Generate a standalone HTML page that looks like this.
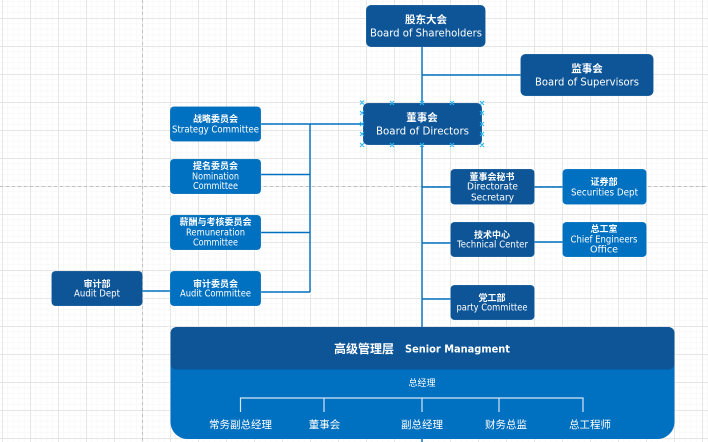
<!DOCTYPE html>
<html><head><meta charset="utf-8"><style>
html,body{margin:0;padding:0;background:#fff;width:708px;height:442px;overflow:hidden}
svg{display:block}
text{fill:#fff;text-anchor:middle;dominant-baseline:central}
.c{font:bold 10.5px "Liberation Sans","Noto Sans CJK SC",sans-serif}
.s{font:bold 9px "Liberation Sans","Noto Sans CJK SC",sans-serif}
.e{font:11px "DejaVu Sans","Liberation Sans",sans-serif}
.f{font:9.5px "DejaVu Sans","Liberation Sans",sans-serif}
.n{font:10.5px "Liberation Sans","Noto Sans CJK SC",sans-serif}
.l{stroke:#0070c0;stroke-width:1.4;fill:none}
.h{stroke:#29b6f2;stroke-width:1.1;fill:none}
</style></head><body>
<svg width="708" height="442" viewBox="0 0 708 442" xmlns="http://www.w3.org/2000/svg">
<defs>
<pattern id="g" x="2" y="18" width="28" height="28" patternUnits="userSpaceOnUse">
<path d="M5.6 0V28M11.2 0V28M16.8 0V28M22.4 0V28M0 5.6H28M0 11.2H28M0 16.8H28M0 22.4H28" stroke="#f9f9f9" stroke-width="1" fill="none"/>
<path d="M0.5 0V28M0 0.5H28" stroke="#e6e6e6" stroke-width="1" fill="none"/>
</pattern>
</defs>
<rect width="708" height="442" fill="#fff"/>
<rect width="708" height="442" fill="url(#g)"/>
<path d="M142.5 0V442M0 186.5H708" stroke="#c0c0c0" stroke-width="1" stroke-dasharray="3 3" fill="none"/>

<path class="l" d="M422 46V442M422 75H521M261 124H363M310 124V292M261 174.5H310M261 232.5H310M261 292H310M142 291H170M422 187H451M534 187H563M422 243H451M534 242H563M422 299H451"/>

<g fill="#0d5597" stroke="#fff" stroke-opacity=".25" stroke-width=".5">
<rect x="366" y="5" width="119.500" height="42" rx="5"/>
<rect x="520.500" y="54" width="133" height="42" rx="5"/>
<rect x="363" y="103" width="119" height="42" rx="5"/>
<rect x="51.500" y="271" width="91" height="35" rx="4"/>
<rect x="450.500" y="169" width="84" height="35.500" rx="4"/>
<rect x="450.500" y="222" width="84" height="35" rx="4"/>
<rect x="450.500" y="285" width="84" height="35" rx="4"/>
</g>
<g fill="#0070c0" stroke="#fff" stroke-opacity=".25" stroke-width=".5">
<rect x="170" y="106.500" width="91" height="35" rx="4"/>
<rect x="170" y="159" width="91" height="35" rx="4"/>
<rect x="170" y="215" width="91" height="35" rx="4"/>
<rect x="170" y="271" width="91" height="35" rx="4"/>
<rect x="562.500" y="169" width="84" height="35.500" rx="4"/>
<rect x="562.500" y="222" width="84" height="35" rx="4"/>
</g>

<path fill="#0070c0" d="M170.500 340H674.500V422a17 17 0 0 1-17 17H187.500a17 17 0 0 1-17-17Z"/>
<rect x="170.500" y="327" width="504" height="42.500" rx="6" fill="#0d5597"/>
<path d="M240.500 412V398H583V412M324 398V412M422 398V412M499 398V412" stroke="#d5e6f4" stroke-width="1.200" fill="none"/>

<path class="h" d="M360 100.500l4 4m0-4l-4 4M390 101l4 4m0-4l-4 4M420 101l4 4m0-4l-4 4M450 101l4 4m0-4l-4 4M480 101l4 4m0-4l-4 4
M360 111l4 4m0-4l-4 4M480 111l4 4m0-4l-4 4M360 122l4 4m0-4l-4 4M480 122l4 4m0-4l-4 4M360 132l4 4m0-4l-4 4M480 132l4 4m0-4l-4 4
M360 143l4 4m0-4l-4 4M390 143l4 4m0-4l-4 4M420 143l4 4m0-4l-4 4M450 143l4 4m0-4l-4 4M480 143l4 4m0-4l-4 4"/>

<text class="c" x="426" y="20">股东大会</text>
<text class="e" x="426" y="33" textLength="112" lengthAdjust="spacingAndGlyphs">Board of Shareholders</text>
<text class="c" x="587" y="69">监事会</text>
<text class="e" x="587" y="82" textLength="104" lengthAdjust="spacingAndGlyphs">Board of Supervisors</text>
<text class="c" x="422" y="118">董事会</text>
<text class="e" x="422.500" y="131" textLength="93" lengthAdjust="spacingAndGlyphs">Board of Directors</text>

<text class="s" x="215.500" y="119">战略委员会</text>
<text class="f" x="215.500" y="130" textLength="87" lengthAdjust="spacingAndGlyphs">Strategy Committee</text>
<text class="s" x="215.500" y="166">提名委员会</text>
<text class="f" x="215.500" y="177" textLength="47" lengthAdjust="spacingAndGlyphs">Nomination</text>
<text class="f" x="215.500" y="186.500" textLength="45" lengthAdjust="spacingAndGlyphs">Committee</text>
<text class="s" x="215.500" y="222">薪酬与考核委员会</text>
<text class="f" x="215.500" y="233" textLength="59" lengthAdjust="spacingAndGlyphs">Remuneration</text>
<text class="f" x="215.500" y="243" textLength="45" lengthAdjust="spacingAndGlyphs">Committee</text>
<text class="s" x="215.500" y="284">审计委员会</text>
<text class="f" x="215.500" y="294" textLength="71" lengthAdjust="spacingAndGlyphs">Audit Committee</text>
<text class="s" x="97" y="284">审计部</text>
<text class="f" x="97" y="294" textLength="46" lengthAdjust="spacingAndGlyphs">Audit Dept</text>

<text class="s" x="492" y="177">董事会秘书</text>
<text class="f" x="492.500" y="187" textLength="51" lengthAdjust="spacingAndGlyphs">Directorate</text>
<text class="f" x="492.500" y="198" textLength="43" lengthAdjust="spacingAndGlyphs">Secretary</text>
<text class="s" x="604" y="182">证券部</text>
<text class="f" x="604.500" y="193" textLength="67" lengthAdjust="spacingAndGlyphs">Securities Dept</text>
<text class="s" x="492" y="235">技术中心</text>
<text class="f" x="492.500" y="245" textLength="71" lengthAdjust="spacingAndGlyphs">Technical Center</text>
<text class="s" x="604" y="229">总工室</text>
<text class="f" x="604" y="240" textLength="67" lengthAdjust="spacingAndGlyphs">Chief Engineers</text>
<text class="f" x="604" y="250" textLength="28" lengthAdjust="spacingAndGlyphs">Office</text>
<text class="s" x="492" y="298">党工部</text>
<text class="f" x="492" y="308" textLength="71" lengthAdjust="spacingAndGlyphs">party Committee</text>

<text x="364" y="349" style="font:bold 12px 'Liberation Sans','Noto Sans CJK SC',sans-serif">高级管理层</text>
<text x="457.500" y="349" textLength="105" lengthAdjust="spacingAndGlyphs" style="font:bold 11px 'DejaVu Sans','Liberation Sans',sans-serif">Senior Managment</text>
<text x="422" y="383" style="font:9px 'Liberation Sans','Noto Sans CJK SC',sans-serif">总经理</text>
<text class="n" x="240.500" y="425">常务副总经理</text>
<text class="n" x="324.500" y="425">董事会</text>
<text class="n" x="422" y="425">副总经理</text>
<text class="n" x="506" y="425">财务总监</text>
<text class="n" x="590" y="425">总工程师</text>
</svg>
</body></html>
